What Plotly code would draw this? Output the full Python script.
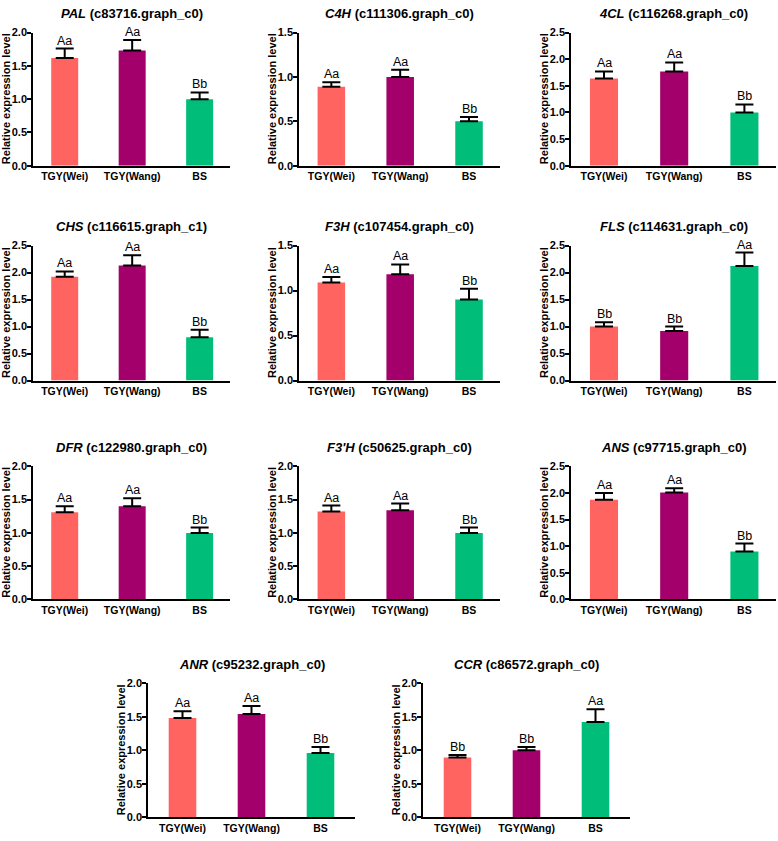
import plotly.graph_objects as go

categories = ["TGY(Wei)", "TGY(Wang)", "BS"]
bar_colors = ["#FF6461", "#A3006B", "#00BE7A"]

genes = ["PAL", "C4H", "4CL", "CHS", "F3H", "FLS", "DFR", "F3'H", "ANS", "ANR", "CCR"]
gene_ids = ["c83716.graph_c0", "c111306.graph_c0", "c116268.graph_c0", "c116615.graph_c1",
            "c107454.graph_c0", "c114631.graph_c0", "c122980.graph_c0", "c50625.graph_c0",
            "c97715.graph_c0", "c95232.graph_c0", "c86572.graph_c0"]

pal_mean = [1.62, 1.73, 1.00]
pal_err = [0.14, 0.16, 0.10]
c4h_mean = [0.89, 1.00, 0.50]
c4h_err = [0.05, 0.08, 0.05]
cl4_mean = [1.64, 1.77, 1.00]
cl4_err = [0.13, 0.17, 0.15]
chs_mean = [1.92, 2.13, 0.80]
chs_err = [0.10, 0.19, 0.14]
f3h_mean = [1.09, 1.18, 0.90]
f3h_err = [0.06, 0.11, 0.12]
fls_mean = [1.00, 0.92, 2.12]
fls_err = [0.08, 0.08, 0.25]
dfr_mean = [1.31, 1.40, 1.00]
dfr_err = [0.09, 0.12, 0.08]
f3ph_mean = [1.32, 1.34, 1.00]
f3ph_err = [0.09, 0.10, 0.08]
ans_mean = [1.87, 2.01, 0.90]
ans_err = [0.13, 0.08, 0.15]
anr_mean = [1.48, 1.54, 0.96]
anr_err = [0.10, 0.12, 0.09]
ccr_mean = [0.89, 1.00, 1.42]
ccr_err = [0.04, 0.05, 0.19]

means = [pal_mean, c4h_mean, cl4_mean, chs_mean, f3h_mean, fls_mean,
         dfr_mean, f3ph_mean, ans_mean, anr_mean, ccr_mean]
errs = [pal_err, c4h_err, cl4_err, chs_err, f3h_err, fls_err,
        dfr_err, f3ph_err, ans_err, anr_err, ccr_err]

letters_up = ["Aa", "Aa", "Bb"]
letters_down = ["Bb", "Bb", "Aa"]
letters = [letters_up, letters_up, letters_up, letters_up, letters_up, letters_down,
           letters_up, letters_up, letters_up, letters_up, letters_down]

y_max = [2.0, 1.5, 2.5, 2.5, 1.5, 2.5, 2.0, 2.0, 2.5, 2.0, 2.0]

# ---- layout (pixel positions) ----
W, H = 778, 841
col_x = [(33, 230), (299, 500), (571, 776)]
row_y = [(27, 162), (243, 380), (467, 602), (687, 823)]
bottom_x = [(148, 355), (423, 630)]

positions = []
for r in range(3):
    for c in range(3):
        positions.append((col_x[c], row_y[r]))
positions.append((bottom_x[0], row_y[3]))
positions.append((bottom_x[1], row_y[3]))

FONT = "Liberation Sans, Arial, sans-serif"

fig = go.Figure()
layout = dict(
    width=W, height=H, margin=dict(l=0, r=0, t=0, b=0),
    paper_bgcolor="white", plot_bgcolor="white", showlegend=False,
    font=dict(family=FONT, color="black"),
)
annotations = []

for i in range(len(genes)):
    (x0, x1), (y0, y1) = positions[i]
    sfx = "" if i == 0 else str(i + 1)
    xa, ya = "x" + sfx, "y" + sfx
    fig.add_trace(go.Bar(
        x=categories, y=means[i], xaxis=xa, yaxis=ya,
        marker=dict(color=bar_colors, line=dict(width=0)),
        width=0.4,
        error_y=dict(type="data", symmetric=False, array=errs[i],
                     arrayminus=[0, 0, 0], color="black", thickness=2, width=9),
        hoverinfo="skip",
    ))
    if i >= 9:
        xr = [-0.5, 2.5]
    else:
        xr = [-0.47, 2.45]
    layout["xaxis" + sfx] = dict(
        domain=[x0 / W, x1 / W], anchor=ya, range=xr,
        showline=True, linecolor="black", linewidth=1.6,
        ticks="", showgrid=False, zeroline=False, fixedrange=True,
        tickfont=dict(family=FONT, size=10.5, weight="bold", color="black"),
    )
    layout["yaxis" + sfx] = dict(
        domain=[1 - y1 / H, 1 - y0 / H], anchor=xa, range=[0, y_max[i]],
        showline=True, linecolor="black", linewidth=1.6,
        ticks="outside", ticklen=4, tickwidth=1.6, tickcolor="black",
        ticklabelstandoff=-2,
        dtick=0.5, tickformat=".1f", showgrid=False, zeroline=False,
        tickfont=dict(family=FONT, size=11, weight="bold", color="black"),
        fixedrange=True,
    )
    for j in range(3):
        annotations.append(dict(
            x=categories[j], y=means[i][j] + errs[i][j], xref=xa, yref=ya,
            text=letters[i][j], showarrow=False, yanchor="bottom", yshift=-1,
            font=dict(family=FONT, size=12.5, color="black"),
        ))
    annotations.append(dict(
        x=(x0 + x1) / 2 / W, y=1 - (y0 - 19) / H, xref="paper", yref="paper",
        text="<b><i>%s</i> (%s)</b>" % (genes[i], gene_ids[i]), showarrow=False,
        xanchor="center", yanchor="middle",
        font=dict(family=FONT, size=13, color="black"),
    ))
    annotations.append(dict(
        x=(x0 - 27) / W, y=1 - (y0 + y1) / 2 / H, xref="paper", yref="paper",
        text="<b>Relative expression level</b>", showarrow=False, textangle=-90,
        xanchor="center", yanchor="middle",
        font=dict(family=FONT, size=11, color="black"),
    ))

layout["annotations"] = annotations
fig.update_layout(**layout)
fig.write_html(
    "out.html",
    config={"displayModeBar": False},
    post_script="document.body.style.margin='0';document.body.style.padding='0';"
                "document.documentElement.style.overflow='hidden';",
)
